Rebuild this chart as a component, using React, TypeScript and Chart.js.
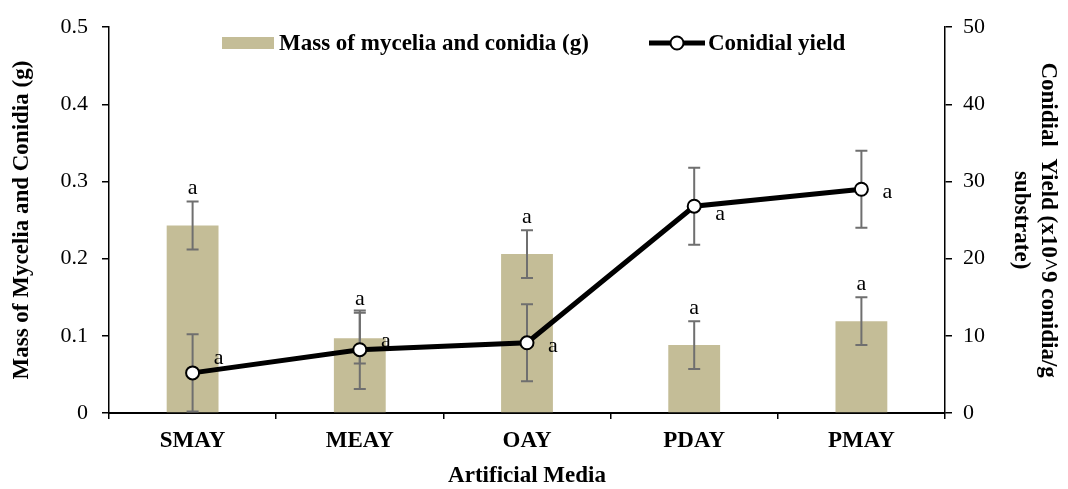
import React, { useEffect, useRef } from "react";
import { Chart, registerables } from "chart.js";

Chart.register(...registerables);

const categories = ["SMAY", "MEAY", "OAY", "PDAY", "PMAY"];
const massValues = [0.243, 0.097, 0.206, 0.088, 0.119];
const massErrors = [0.031, 0.033, 0.031, 0.031, 0.031];
const yieldValues = [5.2, 8.2, 9.1, 26.8, 29.0];
const yieldErrors = [5.0, 5.1, 5.0, 5.0, 5.0];
const massLetters = ["a", "a", "a", "a", "a"];
const yieldLetters = ["a", "a", "a", "a", "a"];
const massLabel = "Mass of mycelia and conidia (g)";
const yieldLabel = "Conidial yield";
const leftTitle = "Mass of Mycelia and Conidia (g)";
const rightTitle = ["Conidial  Yield (x10^9 conidia/g", "substrate)"];
const xTitle = "Artificial Media";

const FONT = "'Liberation Serif', 'Times New Roman', serif";
const BAR_COLOR = "#c4bd97";
const ERR_COLOR = "#6f6f6f";
const yieldLetterDy = [-15, -9, 3, 8, 3];

const extrasPlugin = {
  id: "extras",
  beforeDatasetDraw(chart: any, args: any) {
    if (args.index !== 1) return;
    const ctx = chart.ctx;
    const x = chart.scales.x;
    const yL = chart.scales.y;
    const yR = chart.scales.y1;
    ctx.save();
    ctx.strokeStyle = ERR_COLOR;
    ctx.lineWidth = 2;
    const drawErr = (cx: number, top: number, bot: number) => {
      ctx.beginPath();
      ctx.moveTo(cx, top);
      ctx.lineTo(cx, bot);
      ctx.moveTo(cx - 6, top);
      ctx.lineTo(cx + 6, top);
      ctx.moveTo(cx - 6, bot);
      ctx.lineTo(cx + 6, bot);
      ctx.stroke();
    };
    categories.forEach((_, i) => {
      const cx = x.getPixelForValue(i);
      drawErr(cx, yL.getPixelForValue(massValues[i] + massErrors[i]), yL.getPixelForValue(massValues[i] - massErrors[i]));
      drawErr(cx, yR.getPixelForValue(yieldValues[i] + yieldErrors[i]), yR.getPixelForValue(Math.max(0, yieldValues[i] - yieldErrors[i])));
    });
    ctx.restore();
  },
  afterDraw(chart: any) {
    const ctx = chart.ctx;
    const x = chart.scales.x;
    const yL = chart.scales.y;
    const yR = chart.scales.y1;
    ctx.save();
    ctx.fillStyle = "#000";
    ctx.font = `22px ${FONT}`;
    ctx.textAlign = "center";
    ctx.textBaseline = "middle";
    categories.forEach((_, i) => {
      const cx = x.getPixelForValue(i);
      ctx.fillText(massLetters[i], cx, yL.getPixelForValue(massValues[i] + massErrors[i]) - 13);
      ctx.fillText(yieldLetters[i], cx + 26, yR.getPixelForValue(yieldValues[i]) + yieldLetterDy[i]);
    });
    // legend
    const ly = 43;
    ctx.fillStyle = BAR_COLOR;
    ctx.fillRect(222, ly - 6, 52, 12);
    ctx.fillStyle = "#000";
    ctx.font = `bold 23px ${FONT}`;
    ctx.textAlign = "left";
    ctx.fillText(massLabel, 279, ly + 1);
    ctx.strokeStyle = "#000";
    ctx.lineWidth = 5;
    ctx.beginPath();
    ctx.moveTo(649, ly);
    ctx.lineTo(705, ly);
    ctx.stroke();
    ctx.beginPath();
    ctx.arc(677, ly, 6.5, 0, Math.PI * 2);
    ctx.fillStyle = "#fff";
    ctx.fill();
    ctx.lineWidth = 2;
    ctx.stroke();
    ctx.fillStyle = "#000";
    ctx.fillText(yieldLabel, 708, ly + 1);
    ctx.restore();
  },
};

export default function App() {
  const ref = useRef<HTMLCanvasElement>(null);
  useEffect(() => {
    if (!ref.current) return;
    const chart = new Chart(ref.current, {
      type: "bar",
      data: {
        labels: categories,
        datasets: [
          {
            type: "bar",
            label: massLabel,
            data: massValues,
            backgroundColor: BAR_COLOR,
            yAxisID: "y",
            barPercentage: 0.31,
            categoryPercentage: 1,
            order: 1,
          },
          {
            type: "line",
            label: yieldLabel,
            data: yieldValues,
            borderColor: "#000",
            borderWidth: 5,
            pointRadius: 6.5,
            pointBorderWidth: 2,
            pointBackgroundColor: "#fff",
            pointBorderColor: "#000",
            yAxisID: "y1",
            tension: 0,
            order: 0,
          } as any,
        ],
      },
      options: {
        animation: false,
        responsive: false,
        layout: { padding: { top: 20, left: 0, right: 0, bottom: 0 } },
        plugins: { legend: { display: false }, tooltip: { enabled: false } },
        scales: {
          x: {
            grid: { drawOnChartArea: false, drawTicks: true, tickLength: 6, color: "#000", lineWidth: 1.5 },
            border: { color: "#000", width: 2 },
            ticks: { color: "#000", font: { family: FONT, size: 23, weight: "bold" }, padding: 8 },
            title: { display: true, text: xTitle, color: "#000", font: { family: FONT, size: 23, weight: "bold", lineHeight: 1.1 }, padding: { top: 0, bottom: 0 } },
            afterFit: (s: any) => { s.height = 76; },
          },
          y: {
            position: "left",
            min: 0,
            max: 0.5,
            ticks: { stepSize: 0.1, color: "#000", font: { family: FONT, size: 22 }, padding: 14, callback: (v: any) => (v === 0 ? "0" : Number(v).toFixed(1)) },
            grid: { drawOnChartArea: false, tickLength: 7, color: "#000", lineWidth: 1.5 },
            border: { color: "#000", width: 1.5 },
            title: { display: true, text: leftTitle, color: "#000", font: { family: FONT, size: 23, weight: "bold", lineHeight: 1.2 }, padding: { top: 8, bottom: 0 } },
            afterFit: (s: any) => { s.width = 109; },
          },
          y1: {
            position: "right",
            min: 0,
            max: 50,
            ticks: { stepSize: 10, color: "#000", font: { family: FONT, size: 22 }, padding: 11 },
            grid: { drawOnChartArea: false, tickLength: 7, color: "#000", lineWidth: 1.5 },
            border: { color: "#000", width: 1.5 },
            title: { display: true, text: rightTitle, color: "#000", font: { family: FONT, size: 23, weight: "bold", lineHeight: 1.15 }, padding: { top: 7, bottom: 0 } },
            afterFit: (s: any) => { s.width = 123; },
          },
        },
      },
      plugins: [extrasPlugin],
    });
    return () => chart.destroy();
  }, []);
  return (
    <div style={{ position: "fixed", left: 0, top: 0, width: 1068, height: 489, background: "#fff" }}>
      <canvas ref={ref} width={1068} height={489} style={{ display: "block" }} />
    </div>
  );
}
